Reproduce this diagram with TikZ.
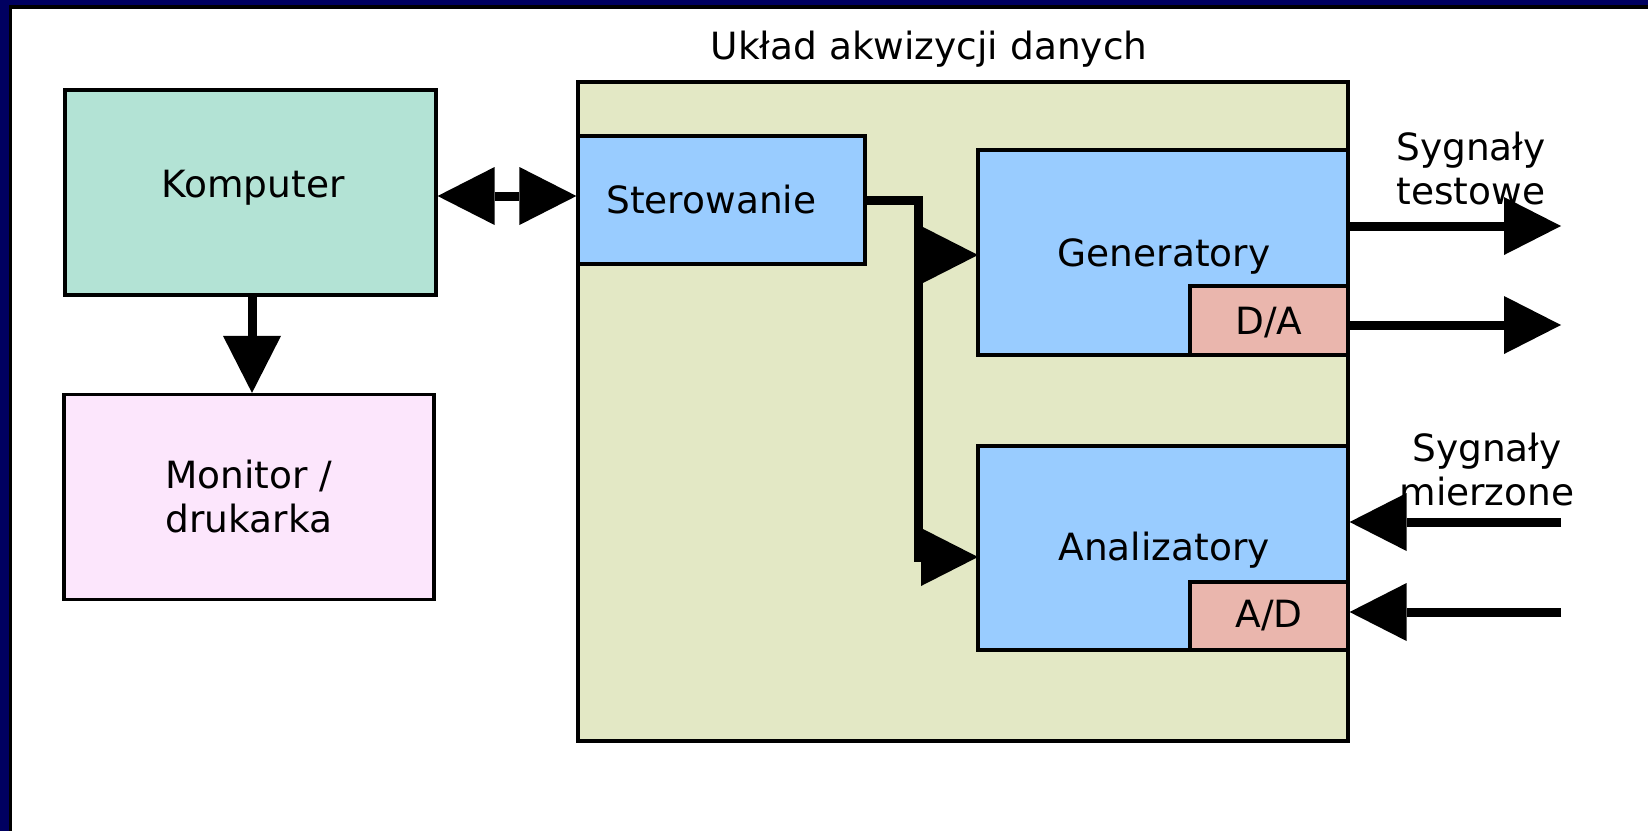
\documentclass[tikz,border=0pt]{standalone}
\usepackage{fontspec}
\setmainfont{DejaVu Sans}
\usetikzlibrary{arrows.meta}
\definecolor{navyframe}{HTML}{000060}
\definecolor{kompcol}{HTML}{B3E3D5}
\definecolor{moncol}{HTML}{FCE6FC}
\definecolor{daqcol}{HTML}{E3E8C5}
\definecolor{bluecol}{HTML}{99CCFF}
\definecolor{convcol}{HTML}{EAB6AD}
\begin{document}
\begin{tikzpicture}[x=1pt,y=-1pt,
  txt/.style={inner sep=0pt,font=\fontsize{37.5}{44}\selectfont},
  box/.style={draw=black,line width=3.2pt,inner sep=0pt,font=\fontsize{37.5}{44}\selectfont},
  tipa/.tip={Triangle[length=57pt,width=58pt,line width=0pt]},
  conn/.style={line width=9pt,-tipa},
  dconn/.style={line width=9pt,tipa-tipa}]
\useasboundingbox (0,0) rectangle (1648,831);
% frame
\fill[navyframe] (0,0) rectangle (1648,831);
\fill[black] (9,5) rectangle (1648,831);
\fill[white] (12,9) rectangle (1648,831);
% boxes
\node[box,fill=daqcol,minimum width=770pt,minimum height=659pt] (daq) at (963,411.5) {};
\node[txt] (title) at (929,49) {Układ akwizycji danych};
\node[box,fill=kompcol,minimum width=371pt,minimum height=205pt] (komp) at (250.5,192.5) {};
\node[txt] (komptxt) at (253,188) {Komputer};
\node[box,fill=moncol,minimum width=370pt,minimum height=205pt,align=center] (mon) at (249,497) {Monitor /\\drukarka};
\node[box,fill=bluecol,minimum width=287pt,minimum height=128pt] (ster) at (721.5,200) {};
\node[txt,anchor=west] (stertxt) at (606,200) {Sterowanie};
\node[box,fill=bluecol,minimum width=370pt,minimum height=205pt] (gen) at (1163,252.5) {};
\node[txt] (gentxt) at (1164,256.5) {Generatory};
\node[box,fill=convcol,minimum width=158pt,minimum height=69pt] (da) at (1269,320.5) {};
\node[txt] (datxt) at (1269,322.5) {D/A};
\node[box,fill=bluecol,minimum width=370pt,minimum height=204pt] (ana) at (1163,548) {};
\node[txt] (anatxt) at (1164,550) {Analizatory};
\node[box,fill=convcol,minimum width=158pt,minimum height=68pt] (ad) at (1269,616) {A/D};
% coordinates
\coordinate (branch) at (918,200);
\coordinate (gin) at (978,255);
\coordinate (ain) at (978,557);
\coordinate (t1) at (1561,226);
\coordinate (t2) at (1561,325);
\coordinate (m1) at (1561,522);
\coordinate (m2) at (1561,612);
% connectors
\draw[dconn] (komp.east |- 0,196) -- (ster.west |- 0,196);
\draw[conn] (komp.south -| 252,0) -- (mon.north -| 252,0);
\draw[conn] (ster.east) -- (branch) |- (ain);
\draw[conn] (branch |- gin) -- (gin);
\draw[conn] (gen.east |- t1) -- (t1);
\draw[conn] (da.east |- t2) -- (t2);
\draw[conn] (m1) -- (ana.east |- m1);
\draw[conn] (m2) -- (ad.east |- m2);
% labels
\node[txt,align=center] (sigt) at (1471,169) {Sygnały\\testowe};
\node[txt,align=center] (sigm) at (1487,470) {Sygnały\\mierzone};
\end{tikzpicture}
\end{document}
